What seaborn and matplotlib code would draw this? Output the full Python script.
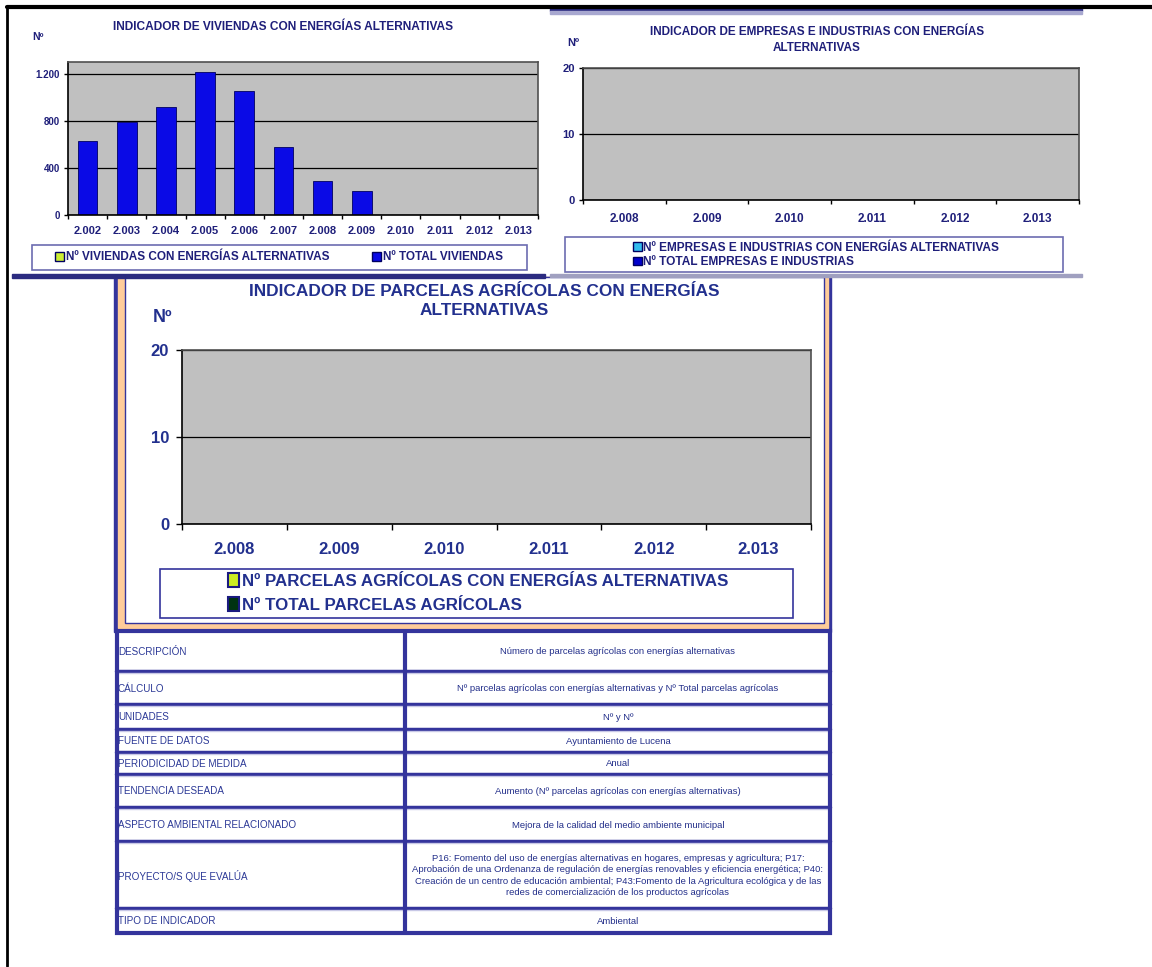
import numpy as np
import pandas as pd
import matplotlib
matplotlib.use("Agg")
import matplotlib.pyplot as plt
from matplotlib import font_manager
from matplotlib.patches import Rectangle, Patch
from matplotlib.ticker import FixedLocator
import seaborn as sns

# ---- datos ----
anios_viviendas = ["2.002", "2.003", "2.004", "2.005", "2.006", "2.007",
                   "2.008", "2.009", "2.010", "2.011", "2.012", "2.013"]
total_viviendas = [625, 793, 919, 1213, 1054, 580, 286, 202,
                   np.nan, np.nan, np.nan, np.nan]
yticks_viviendas = [0, 400, 800, 1200]
ylabels_viviendas = ["0", "400", "800", "1.200"]

anios_empresas = ["2.008", "2.009", "2.010", "2.011", "2.012", "2.013"]
anios_parcelas = ["2.008", "2.009", "2.010", "2.011", "2.012", "2.013"]
yticks_vacios = [0, 10, 20]
ylabels_vacios = ["0", "10", "20"]

leyenda_viviendas = ["Nº VIVIENDAS CON ENERGÍAS ALTERNATIVAS", "Nº TOTAL VIVIENDAS"]
leyenda_empresas = ["Nº EMPRESAS E INDUSTRIAS CON ENERGÍAS ALTERNATIVAS",
                    "Nº TOTAL EMPRESAS E INDUSTRIAS"]
leyenda_parcelas = ["Nº PARCELAS AGRÍCOLAS CON ENERGÍAS ALTERNATIVAS",
                    "Nº TOTAL PARCELAS AGRÍCOLAS"]

campos = ["DESCRIPCIÓN", "CÁLCULO", "UNIDADES", "FUENTE DE DATOS",
          "PERIODICIDAD DE MEDIDA", "TENDENCIA DESEADA",
          "ASPECTO AMBIENTAL RELACIONADO", "PROYECTO/S QUE EVALÚA",
          "TIPO DE INDICADOR"]
valores = [
    "Número de parcelas agrícolas con energías alternativas",
    "Nº parcelas agrícolas con energías alternativas y Nº Total parcelas agrícolas",
    "Nº y Nº",
    "Ayuntamiento de Lucena",
    "Anual",
    "Aumento (Nº parcelas agrícolas con energías alternativas)",
    "Mejora de la calidad del medio ambiente municipal",
    "P16: Fomento del uso de energías alternativas en hogares, empresas y agricultura; P17:\n"
    "Aprobación de una Ordenanza de regulación de energías renovables y eficiencia energética; P40:\n"
    "Creación de un centro de educación ambiental; P43:Fomento de la Agricultura ecológica y de las\n"
    "redes de comercialización de los productos agrícolas",
    "Ambiental",
]

# ---- layout (pixels) ----
W, H = 1152, 967
filas_y = [631, 671, 704, 729, 752, 774, 807, 841, 908, 932]

NAVY = "#1f1f7a"
NAVY3 = "#22308e"
LINE = "#34349c"
GRAY = "#c0c0c0"
PEACH = "#ffcc99"

sns.set_style("white")
disponibles = {f.name for f in font_manager.fontManager.ttflist}
SANS = "Liberation Sans" if "Liberation Sans" in disponibles else "DejaVu Sans"
plt.rcParams["font.family"] = [SANS, "DejaVu Sans"]


def caja(x0, y0, x1, y1):
    return [x0 / W, 1 - y1 / H, (x1 - x0) / W, (y1 - y0) / H]


fig = plt.figure(figsize=(W / 100, H / 100), dpi=100)
bg = fig.add_axes([0, 0, 1, 1])
bg.set_xlim(0, W)
bg.set_ylim(H, 0)
bg.axis("off")

# marco exterior
bg.plot([7, 7], [7, 966], color="black", lw=2)
bg.plot([7, 1152], [7, 7], color="black", lw=3)

# panel 1 y 2
bg.add_patch(Rectangle((12, 10), 533, 263, color="white", zorder=1))
bg.add_patch(Rectangle((12, 274), 533, 4, color="#2b2b80", zorder=1))
bg.add_patch(Rectangle((550, 8), 532, 3, color="#2b2b80", zorder=1))
bg.add_patch(Rectangle((550, 11), 532, 3, color="#a8a8d0", zorder=1))
bg.add_patch(Rectangle((550, 274), 532, 3, color="#a0a0c0", zorder=1))

# marco panel 3
bg.add_patch(Rectangle((114, 277), 717, 355, color=LINE, zorder=0.5))
bg.add_patch(Rectangle((117.5, 277), 710.5, 351, color=PEACH, zorder=0.6))
bg.add_patch(Rectangle((124.5, 277), 699, 346, facecolor="white",
                       edgecolor=LINE, lw=1, zorder=0.7))

# cajas de leyenda
bg.add_patch(Rectangle((32, 245), 495, 25, facecolor="white", edgecolor="#6c6cb0", lw=1.2, zorder=2))
bg.add_patch(Rectangle((565, 237), 498, 35, facecolor="white", edgecolor="#6c6cb0", lw=1.2, zorder=2))
bg.add_patch(Rectangle((160, 569), 633, 49, facecolor="white", edgecolor=LINE, lw=1.2, zorder=2))

# titulos
bg.text(283, 27, "INDICADOR DE VIVIENDAS CON ENERGÍAS ALTERNATIVAS", ha="center", va="center",
        fontsize=8.6, fontweight="bold", color=NAVY, zorder=3)
bg.text(38, 37, "Nº", ha="center", va="center", fontsize=7.5, fontweight="bold", color=NAVY, zorder=3)
bg.text(817, 40, "INDICADOR DE EMPRESAS E INDUSTRIAS CON ENERGÍAS\nALTERNATIVAS", ha="center",
        va="center", fontsize=8.5, fontweight="bold", color=NAVY, linespacing=1.35, zorder=3)
bg.text(573, 43, "Nº", ha="center", va="center", fontsize=8, fontweight="bold", color=NAVY, zorder=3)
bg.text(484, 301, "INDICADOR DE PARCELAS AGRÍCOLAS CON ENERGÍAS\nALTERNATIVAS", ha="center",
        va="center", fontsize=12.4, fontweight="bold", color=NAVY3, linespacing=1.3, zorder=3)
bg.text(162, 318, "Nº", ha="center", va="center", fontsize=13, fontweight="bold", color=NAVY3,
        zorder=3)

# tabla
bg.add_patch(Rectangle((116, 631), 714, 301, facecolor="white", edgecolor="none", zorder=1))
for y in filas_y[1:-1]:
    bg.plot([116, 830], [y, y], color=LINE, lw=2.5, zorder=2)
    bg.plot([116, 830], [y + 2, y + 2], color="#c8c8e6", lw=1, zorder=2)
bg.plot([405, 405], [631, 932], color=LINE, lw=3, zorder=2)
bg.add_patch(Rectangle((116.5, 631), 713.5, 302, facecolor="none", edgecolor=LINE, lw=3, zorder=3))
for i, (c, v) in enumerate(zip(campos, valores)):
    yc = (filas_y[i] + filas_y[i + 1]) / 2 + 1
    bg.text(118, yc, c, ha="left", va="center", fontsize=7.1, color="#2b3896", zorder=3)
    bg.text(618, yc, v, ha="center", va="center", fontsize=6.8, color="#232f8a",
            linespacing=1.3, zorder=3)


def estilo(ax, cats, ymax, ticks, etiquetas, fsx, fsy, pad_x, pad_y, tick_px, color):
    n = len(cats)
    ax.set_xlim(-0.5, n - 0.5)
    ax.set_ylim(0, ymax)
    ax.set_facecolor(GRAY)
    ax.set_xticks(range(n))
    ax.set_xticklabels(cats, fontsize=fsx, fontweight="bold", color=color)
    ax.xaxis.set_minor_locator(FixedLocator(np.arange(n + 1) - 0.5))
    ax.tick_params(axis="x", which="major", bottom=True, length=0, pad=pad_x)
    ax.tick_params(axis="x", which="minor", bottom=True, length=tick_px * 0.72,
                   width=1, color="black", direction="out")
    ax.set_yticks(ticks)
    ax.set_yticklabels(etiquetas, fontsize=fsy, fontweight="bold", color=color)
    ax.tick_params(axis="y", left=True, length=tick_px * 0.72, width=1, color="black", pad=pad_y)
    ax.yaxis.grid(True, color="black", lw=0.9)
    ax.xaxis.grid(False)
    ax.set_axisbelow(True)
    ax.set_xlabel("")
    ax.set_ylabel("")
    for s in ["left", "bottom"]:
        ax.spines[s].set_color("black")
        ax.spines[s].set_linewidth(1.2)
    for s in ["top", "right"]:
        ax.spines[s].set_color("#505050")
        ax.spines[s].set_linewidth(1.2)


# grafico 1
ax1 = fig.add_axes(caja(68, 62, 538, 215), zorder=5)
df_viv = pd.DataFrame({"anio": anios_viviendas, "total": total_viviendas})
sns.barplot(data=df_viv, x="anio", y="total", order=anios_viviendas, color="#0a0ae6",
            saturation=1, width=0.5, edgecolor="#000060", linewidth=0.6, ax=ax1)
estilo(ax1, anios_viviendas, 1300, yticks_viviendas, ylabels_viviendas, 8, 7, 8, 3, 4, NAVY)
h1 = [Patch(facecolor="#ccee33", edgecolor="#000060", lw=1),
      Patch(facecolor="#0a0ae6", edgecolor="#000060", lw=1)]
ax1.legend(h1, leyenda_viviendas, loc="center", bbox_to_anchor=(279, 257.5),
           bbox_transform=bg.transData, ncol=2, frameon=False, handlelength=0.75,
           handleheight=0.75, handletextpad=0.15, columnspacing=3.6,
           prop={"family": SANS, "weight": "bold", "size": 8.5}, labelcolor=NAVY)

# grafico 2
ax2 = fig.add_axes(caja(583, 68, 1079, 200), zorder=5)
estilo(ax2, anios_empresas, 20, yticks_vacios, ylabels_vacios, 8.5, 8, 9, 3, 4, NAVY)
h2 = [Patch(facecolor="#33bbee", edgecolor="#000060", lw=1),
      Patch(facecolor="#0000cc", edgecolor="#000060", lw=1)]
ax2.legend(h2, leyenda_empresas, loc="center", bbox_to_anchor=(816, 255),
           bbox_transform=bg.transData, ncol=1, frameon=False, handlelength=0.75,
           handleheight=0.75, handletextpad=0.15, labelspacing=0.2,
           prop={"family": SANS, "weight": "bold", "size": 8.6}, labelcolor=NAVY)

# grafico 3
ax3 = fig.add_axes(caja(182, 350, 811, 524), zorder=5)
estilo(ax3, anios_parcelas, 20, yticks_vacios, ylabels_vacios, 12, 12, 13, 5, 6, NAVY3)
h3 = [Patch(facecolor="#ccee22", edgecolor="#1a1a80", lw=1.5),
      Patch(facecolor="#003311", edgecolor="#1a1a80", lw=1.5)]
ax3.legend(h3, leyenda_parcelas, loc="center", bbox_to_anchor=(478, 593),
           bbox_transform=bg.transData, ncol=1, frameon=False, handlelength=0.7,
           handleheight=0.9, handletextpad=0.15, labelspacing=0.45,
           prop={"family": SANS, "weight": "bold", "size": 12.2}, labelcolor=NAVY3)

fig.savefig("out.png", dpi=100)
